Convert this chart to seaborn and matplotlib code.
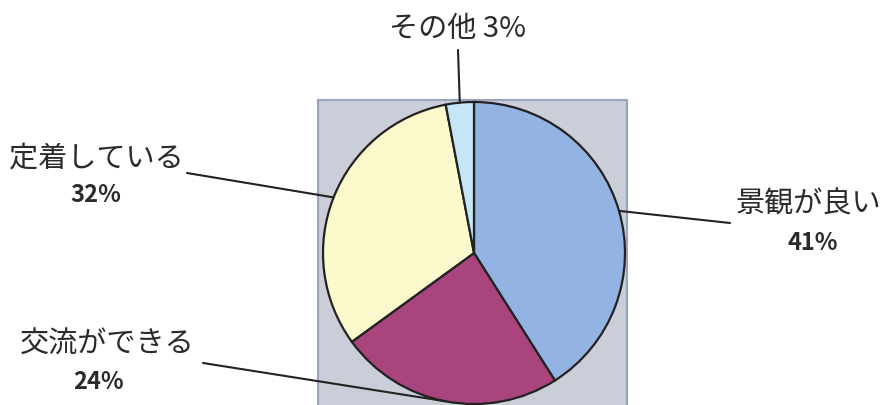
import matplotlib.pyplot as plt
import seaborn as sns
import numpy as np

# data
labels = ['景観が良い', '交流ができる', '定着している', 'その他']
values = [41, 24, 32, 3]
colors = ['#93b3e3', '#a9457c', '#fcf9cc', '#c4e6f6']

# label text centres (image pixels) and leader line ends (image pixels)
text_pos = [(809, 205), (107, 345), (96, 158), (458, 29)]
pct_pos = [(813, 243), (98, 382), (96, 195), None]
line_end = [(730, 223), (203, 363), (187, 173), (458, 50)]

sns.set_theme(style="white")
plt.rcParams['font.family'] = ['Noto Sans CJK JP', 'DejaVu Sans']

W, H = 893, 405
fig = plt.figure(figsize=(W / 100, H / 100), dpi=100)

# plot area background
bg = fig.add_axes([318 / W, -0.05, 309 / W, (405 - 100) / H + 0.05])
bg.set_facecolor('#c9ced9')
bg.set_xticks([])
bg.set_yticks([])
for s in bg.spines.values():
    s.set_color('#9aa3bd')
    s.set_linewidth(1.5)

cx, cy, r = 474, 253, 151
ax = fig.add_axes([(cx - r) / W, (H - cy - r) / H, 2 * r / W, 2 * r / H])
wedges, _ = ax.pie(values, colors=colors, startangle=90, counterclock=False,
                   radius=1, wedgeprops=dict(edgecolor='#222222', linewidth=1.6))
ax.set_xlim(-1, 1)
ax.set_ylim(-1, 1)
ax.axis('off')

txt_color = '#2b2b2b'
for i, w in enumerate(wedges):
    mid = np.deg2rad((w.theta1 + w.theta2) / 2)
    x, y = np.cos(mid), np.sin(mid)
    ex, ey = line_end[i]
    ax.annotate('', xy=(x, y), xycoords='data',
                xytext=(ex, H - ey), textcoords='figure pixels',
                arrowprops=dict(arrowstyle='-', color='#222222', lw=1.5,
                                shrinkA=0, shrinkB=0))
    tx, ty = text_pos[i]
    if pct_pos[i] is None:
        fig.text(tx / W, 1 - ty / H, f'{labels[i]} {values[i]}%', ha='center', va='center',
                 fontsize=21, color=txt_color)
    else:
        fig.text(tx / W, 1 - ty / H, labels[i], ha='center', va='center',
                 fontsize=21, color=txt_color)
        px, py = pct_pos[i]
        fig.text(px / W, 1 - py / H, f'{values[i]}%', ha='center', va='center',
                 fontsize=17, fontweight='bold', color=txt_color)

fig.savefig('out.png', dpi=100)
